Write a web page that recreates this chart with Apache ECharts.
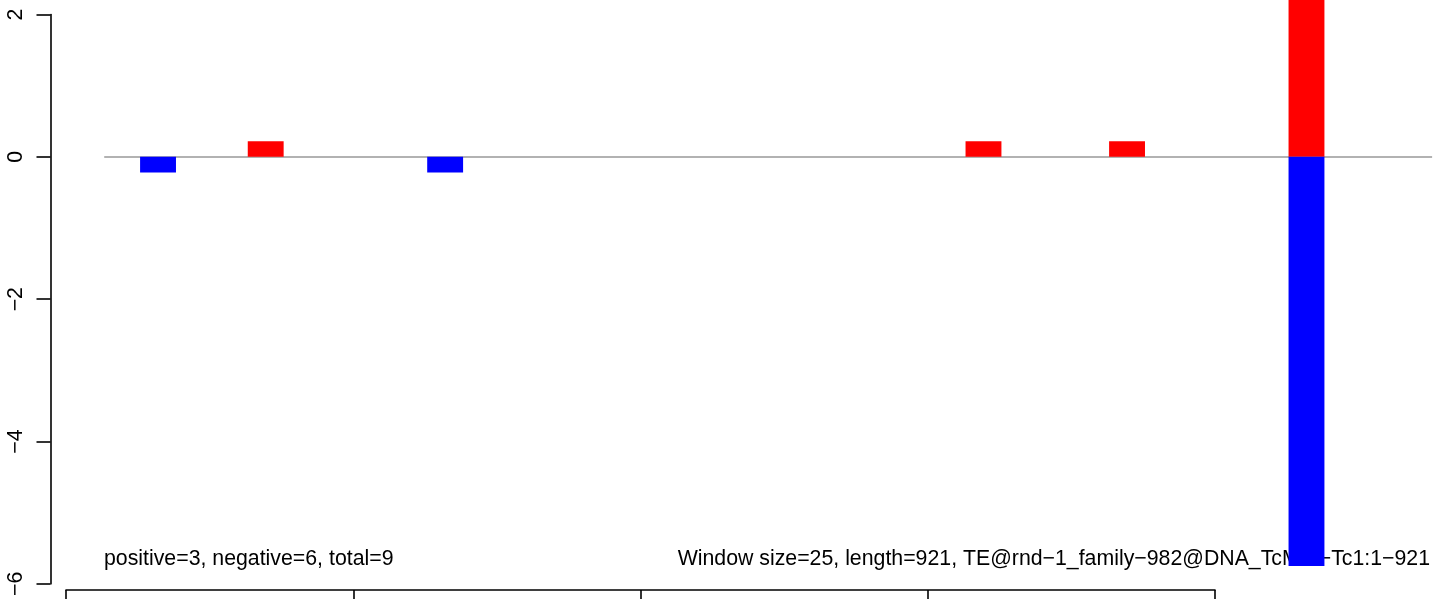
<!DOCTYPE html>
<html>
<head>
<meta charset="utf-8">
<script src="https://cdn.jsdelivr.net/npm/echarts@6/dist/echarts.min.js"></script>
<style>
html,body{margin:0;padding:0;background:#fff;}
#chart{width:1444px;height:599px;}
</style>
</head>
<body>
<div id="chart"></div>
<script>
// window index (37 windows of 25 bp over length 921)
const windows = ['1','2','3','4','5','6','7','8','9','10','11','12','13','14','15','16','17','18','19','20',
  '21','22','23','24','25','26','27','28','29','30','31','32','33','34','35','36','37'];
const positiveValues = [0,0,0,0,0.22,0,0,0,0,0,0,0,0,0,0,0,0,0,0,0,0,0,0,0,0.22,0,0,0,0.22,0,0,0,0,2.6,0,0,0];
const negativeValues = [0,-0.22,0,0,0,0,0,0,0,-0.22,0,0,0,0,0,0,0,0,0,0,0,0,0,0,0,0,0,0,0,0,0,0,0,-5.75,0,0,0];
const yTicks = [-6,-4,-2,0,2];
const bottomTicks = [0,200,400,600,800];
const leftText = 'positive=3, negative=6, total=9';
const rightText = 'Window size=25, length=921, TE@rnd\u22121_family\u2212982@DNA_TcMar\u2212Tc1:1\u2212921';

const FONT = '"Liberation Sans", Arial, Helvetica, sans-serif';
const chart = echarts.init(document.getElementById('chart'), null, {renderer:'canvas'});
chart.setOption({
  animation:false,
  backgroundColor:'#ffffff',
  grid:[
    {left:104.2, right:11.9, top:14.5, bottom:13, containLabel:false},
    {left:66, width:1149, top:570, height:20, containLabel:false}
  ],
  xAxis:[
    {type:'category', gridIndex:0, data:windows, show:false, boundaryGap:true},
    {type:'value', gridIndex:1, min:bottomTicks[0], max:bottomTicks[bottomTicks.length-1], interval:200,
     position:'bottom',
     axisLine:{show:true, lineStyle:{color:'#000', width:1.6}},
     axisTick:{show:true, length:12, lineStyle:{color:'#000', width:1.6}},
     axisLabel:{show:false}, splitLine:{show:false}}
  ],
  yAxis:[
    {type:'value', gridIndex:0, min:yTicks[0], max:yTicks[yTicks.length-1], interval:2,
     offset:53.7,
     axisLine:{show:true, lineStyle:{color:'#000', width:1.6}},
     axisTick:{show:true, length:14, lineStyle:{color:'#000', width:1.6}},
     splitLine:{show:false},
     axisLabel:{show:true, rotate:90, margin:24, color:'#000', fontSize:21.3, fontFamily:FONT,
       formatter:function(v){return String(v).replace('-', '\u2212');}}},
    {type:'value', gridIndex:1, show:false, min:0, max:1}
  ],
  graphic:[
    {type:'text', z:0, left:104, top:549, style:{text:leftText, fill:'#000', fontSize:21.3, fontFamily:FONT}},
    {type:'text', z:0, right:14, top:549, style:{text:rightText, fill:'#000', fontSize:21.3, fontFamily:FONT}}
  ],
  series:[
    {type:'bar', name:'positive', xAxisIndex:0, yAxisIndex:0, data:positiveValues, stack:'s',
     barCategoryGap:'0%', itemStyle:{color:'#ff0000'}, clip:false, z:3,
     markLine:{silent:true, symbol:'none', z:1, label:{show:false},
       lineStyle:{color:'#999999', width:1.6, type:'solid'}, data:[{yAxis:0}]}},
    {type:'bar', name:'negative', xAxisIndex:0, yAxisIndex:0, data:negativeValues, stack:'s',
     barCategoryGap:'0%', itemStyle:{color:'#0000ff'}, clip:false, z:3}
  ]
});
</script>
</body>
</html>
